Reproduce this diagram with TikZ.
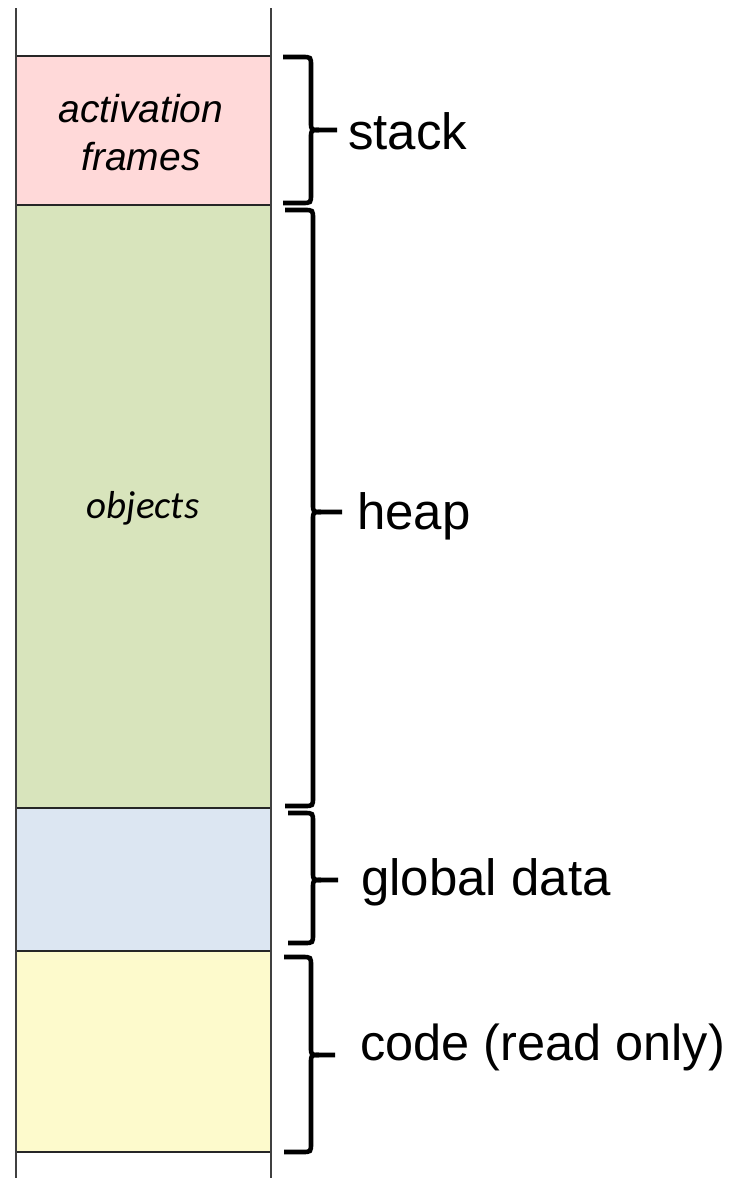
\documentclass[tikz,border=0pt]{standalone}
\usepackage{fontspec}
\setmainfont{Liberation Sans}
\newfontfamily\objfont{Carlito}
\begin{document}
\begin{tikzpicture}[x=1pt,y=-1pt,
  seg/.style={draw=black!85,line width=1.6pt},
  rail/.style={draw=black!75,line width=1.3pt},
  bracepath/.style={draw=black,line width=4.6pt,line cap=butt},
  lbl/.style={font=\fontsize{51}{60}\selectfont,anchor=base west,inner sep=0pt},
  intext/.style={font=\fontsize{39}{47}\selectfont\itshape,anchor=base,inner sep=0pt}]
\definecolor{stackc}{RGB}{255,217,217}
\definecolor{heapc}{RGB}{216,228,188}
\definecolor{globc}{RGB}{220,230,242}
\definecolor{codec}{RGB}{253,250,204}
\useasboundingbox (0,0) rectangle (734,1178);
\fill[white] (0,0) rectangle (734,1178);
% regions
\fill[stackc] (16,56) rectangle (271,205);
\fill[heapc] (16,205) rectangle (271,808);
\fill[globc] (16,808) rectangle (271,951);
\fill[codec] (16,951) rectangle (271,1152);
\draw[seg] (16,56) -- (271,56);
\draw[seg] (16,205) -- (271,205);
\draw[seg] (16,808) -- (271,808);
\draw[seg] (16,951) -- (271,951);
\draw[seg] (16,1152) -- (271,1152);
\draw[rail] (16,8) -- (16,1178);
\draw[rail] (271,8) -- (271,1178);
% texts in boxes
\node[intext] (act) at (141,122) {activation};
\node[intext] (fra) at (141,170) {frames};
\node[font=\fontsize{39}{45}\selectfont\objfont\itshape,anchor=base,inner sep=0pt] (obj) at (143,518) {objects};
% braces
\newcommand\membrace[6]{%
  \draw[bracepath] (#1,#4) -- ({#2-9},#4) .. controls (#2,#4) .. (#2,{#4+9})
    -- (#2,{#5-8}) .. controls (#2,#5) .. ({#2+8},#5) -- (#3,#5);
  \draw[bracepath] (#1,#6) -- ({#2-9},#6) .. controls (#2,#6) .. (#2,{#6-9})
    -- (#2,{#5+8}) .. controls (#2,#5) .. ({#2+8},#5);}
\membrace{283}{311}{337}{57}{130}{203}
\membrace{285}{313}{342}{210}{512}{806}
\membrace{288}{313}{338}{813}{880}{943}
\membrace{284}{311}{335}{957}{1055}{1152}
% labels
\node[lbl] (stack) at (348,149) {stack};
\node[lbl] (heap) at (357,529) {heap};
\node[lbl] (glob) at (361,895) {global data};
\node[lbl,font=\fontsize{50.5}{60}\selectfont] (code) at (360,1060) {code (read only)};
\end{tikzpicture}
\end{document}
